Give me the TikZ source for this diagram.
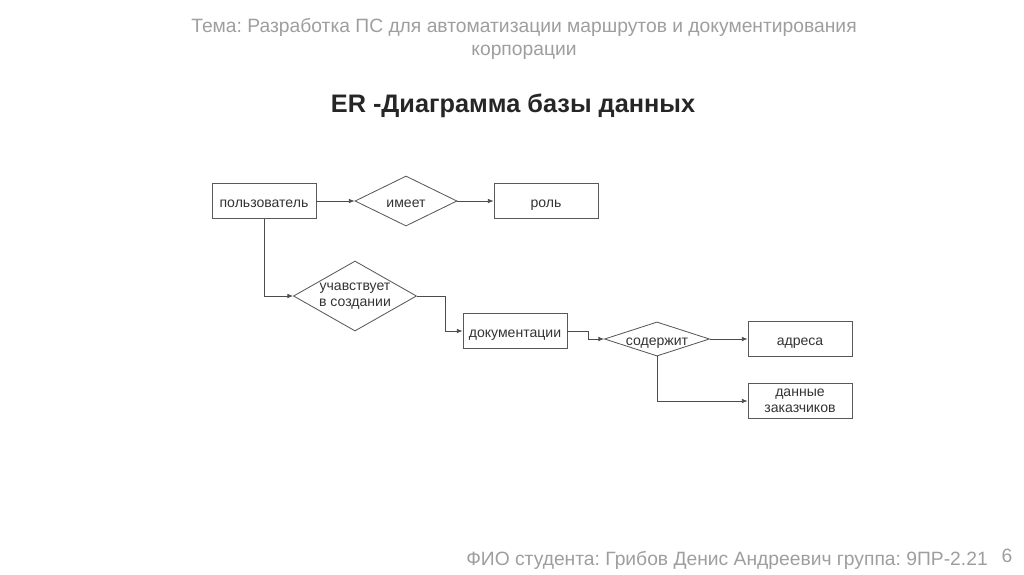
\documentclass[tikz,border=0pt]{standalone}
\usepackage{fontspec}
\setmainfont{Liberation Sans}
\usepackage{xcolor}
\usetikzlibrary{arrows.meta,positioning,shapes.geometric}
\frenchspacing

\begin{document}
\begin{tikzpicture}[x=0.025cm, y=-0.025cm,
  entity/.style={draw=black!65, line width=0.6pt, minimum width=2.6cm,
                 minimum height=0.875cm, inner sep=0pt, align=center,
                 font=\fontsize{10}{11}\selectfont, text=black!80},
  relation/.style={draw=black!65, line width=0.6pt, diamond, inner sep=0pt,
                   align=center, font=\fontsize{10}{11}\selectfont, text=black!80},
  oneline/.style={text height=1.75ex, text depth=0.05ex},
  arrow/.style={-{Latex[length=1.4mm, width=1.1mm]}, draw=black!70, line width=0.5pt},
  label/.style={font=\fontsize{13.7}{16.5}\selectfont, text=black!38},
]
\useasboundingbox (0,0) rectangle (1024,574);

% header and title
\node[label, align=center] (topic) at (524,39)
  {Тема: Разработка ПС для автоматизации маршрутов и документирования\\
   корпорации};
\node[font=\fontsize{18}{21}\selectfont\bfseries, text=black!85] (title) at (513,106)
  {ER -Диаграмма базы данных};

% entities and relations
\node[entity, oneline] (user) at (264,201) {пользователь};
\node[relation, oneline, minimum width=2.55cm, minimum height=1.25cm, shape aspect=2] (has) at (406,201) {имеет};
\node[entity, oneline] (role) at (546,201) {роль};
\node[relation, minimum width=3.075cm, minimum height=1.75cm, shape aspect=1.76] (part) at (355,296)
  {учавствует\\в создании};
\node[entity, oneline] (doc) at (515,331) {документации};
\node[relation, oneline, minimum width=2.625cm, minimum height=0.85cm, shape aspect=3] (cont) at (657,339) {содержит};
\node[entity, oneline] (addr) at (800,339) {адреса};
\node[entity] (cust) at (800,401) {данные\\заказчиков};

\draw[arrow] (user.east) -- (has.west);
\draw[arrow] (has.east) -- (role.west);
\draw[arrow] (user.south) |- (part.west);
\draw[arrow] (part.east) -- ++(28,0) |- (doc.west);
\draw[arrow] (doc.east) -- ++(21,0) |- (cont.west);
\draw[arrow] (cont.east) -- (addr.west);
\draw[arrow] (cont.south) |- (cust.west);

% footer
\node[label] (page) at (1007,556) {6};
\node[label] (student) at (727,560)
  {ФИО студента: Грибов Денис Андреевич группа: 9ПР-2.21};
\end{tikzpicture}
\end{document}
